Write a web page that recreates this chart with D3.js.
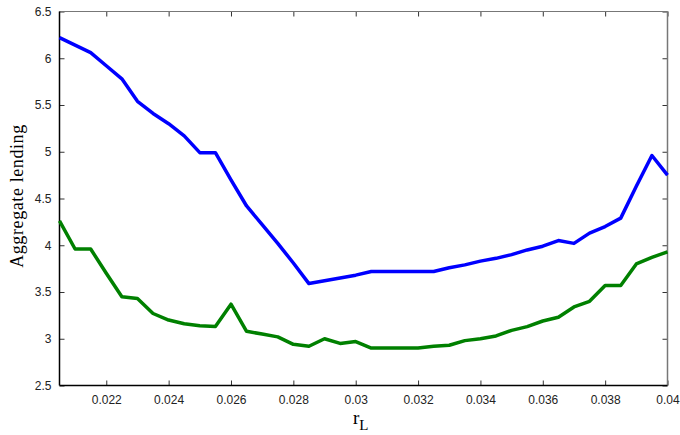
<!DOCTYPE html>
<html><head><meta charset="utf-8">
<script src="https://cdn.jsdelivr.net/npm/d3@7"></script>
<style>body{margin:0;background:#fff}svg{display:block}</style>
</head><body>
<svg id="c" width="680" height="435"></svg>
<script>
const rL = [0.0205,0.021,0.0215,0.022,0.0225,0.023,0.0235,0.024,0.0245,0.025,0.0255,0.026,0.0265,0.027,0.0275,0.028,0.0285,0.029,0.0295,0.03,0.0305,0.031,0.0315,0.032,0.0325,0.033,0.0335,0.034,0.0345,0.035,0.0355,0.036,0.0365,0.037,0.0375,0.038,0.0385,0.039,0.0395,0.04];
const blueSeries = [6.22,6.14,6.06,5.92,5.78,5.54,5.41,5.30,5.17,4.99,4.99,4.70,4.42,4.22,4.02,3.81,3.59,3.62,3.65,3.68,3.72,3.72,3.72,3.72,3.72,3.76,3.79,3.83,3.86,3.90,3.95,3.99,4.05,4.02,4.13,4.20,4.29,4.63,4.96,4.75];
const greenSeries = [4.26,3.96,3.96,3.70,3.45,3.43,3.27,3.20,3.16,3.14,3.13,3.37,3.08,3.05,3.02,2.94,2.92,3.00,2.95,2.97,2.90,2.90,2.90,2.90,2.92,2.93,2.98,3.00,3.03,3.09,3.13,3.19,3.23,3.34,3.40,3.57,3.57,3.80,3.87,3.93];
const xTicks = [0.022,0.024,0.026,0.028,0.03,0.032,0.034,0.036,0.038,0.04];
const yTicks = [2.5,3,3.5,4,4.5,5,5.5,6,6.5];
const xLabels = ["0.022","0.024","0.026","0.028","0.03","0.032","0.034","0.036","0.038","0.04"];
const yLabels = ["2.5","3","3.5","4","4.5","5","5.5","6","6.5"];

const L=59.5, R=667.5, T=11.5, B=385.5;
const svg = d3.select("#c");
const x = d3.scaleLinear().domain([0.0205,0.04]).range([L,R]);
const y = d3.scaleLinear().domain([2.5,6.5]).range([B,T]);

const tickFont = "'Liberation Sans', Arial, sans-serif";
// ticks inside on all sides
const gx = svg.append("g").attr("transform",`translate(0,${B})`)
  .call(d3.axisBottom(x).tickValues(xTicks).tickSize(-5).tickPadding(10).tickFormat((d,i)=>xLabels[i]));
const gxt = svg.append("g").attr("transform",`translate(0,${T})`)
  .call(d3.axisTop(x).tickValues(xTicks).tickSize(-5).tickFormat(""));
const gy = svg.append("g").attr("transform",`translate(${L},0)`)
  .call(d3.axisLeft(y).tickValues(yTicks).tickSize(-5).tickPadding(8).tickFormat((d,i)=>yLabels[i]));
const gyr = svg.append("g").attr("transform",`translate(${R},0)`)
  .call(d3.axisRight(y).tickValues(yTicks).tickSize(-5).tickFormat(""));
[gx,gxt,gy,gyr].forEach(g=>{
  g.select(".domain").remove();
  g.selectAll(".tick line").attr("stroke","#333");
  g.selectAll("text").attr("font-family",tickFont).attr("font-size","12px").attr("fill","#222");
});
gx.selectAll(".tick").filter(d=>d===0.04).select("text").attr("text-anchor","middle");

// box
svg.append("line").attr("x1",L).attr("x2",R).attr("y1",T).attr("y2",T).attr("stroke","#777");
svg.append("line").attr("x1",R).attr("x2",R).attr("y1",T).attr("y2",B).attr("stroke","#777").attr("stroke-width",1.5);
svg.append("line").attr("x1",L).attr("x2",L).attr("y1",T).attr("y2",B).attr("stroke","#000").attr("stroke-width",1.5);
svg.append("line").attr("x1",L).attr("x2",R).attr("y1",B).attr("y2",B).attr("stroke","#000").attr("stroke-width",1.5);

const line = d3.line().x((d,i)=>x(rL[i])).y(d=>y(d));
svg.append("path").datum(greenSeries).attr("d",line).attr("fill","none").attr("stroke","#008000").attr("stroke-width",3.5).attr("stroke-linejoin","round");
svg.append("path").datum(blueSeries).attr("d",line).attr("fill","none").attr("stroke","#0000ff").attr("stroke-width",3.5).attr("stroke-linejoin","round");

// labels
svg.append("text").attr("transform","translate(23,196) rotate(-90)").attr("text-anchor","middle")
  .attr("font-family","'Liberation Serif','Times New Roman',serif").attr("font-size","18px").attr("letter-spacing","0.6px").attr("fill","#000")
  .text("Aggregate lending");
const xl = svg.append("text").attr("x",353).attr("y",424).attr("font-family","'Liberation Serif','Times New Roman',serif").attr("font-size","19px").attr("fill","#000");
xl.append("tspan").text("r");
xl.append("tspan").attr("dy",6).attr("font-size","15px").text("L");
</script>
</body></html>
